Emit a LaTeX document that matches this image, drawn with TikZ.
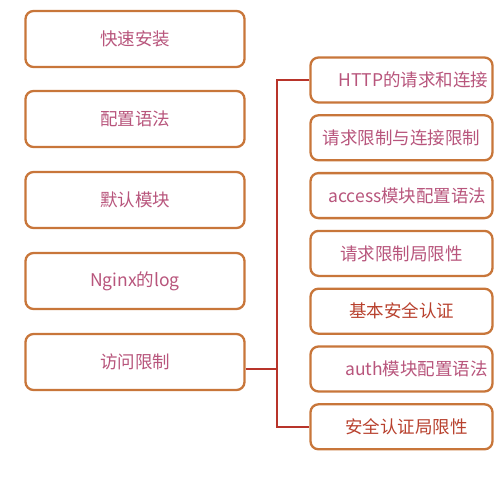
\documentclass[tikz,border=0pt]{standalone}
\usepackage{fontspec}
\newfontfamily\cjk{Noto Sans CJK SC}
\usepackage{tikz}
\usetikzlibrary{positioning}

\definecolor{boxline}{HTML}{C8763A}
\definecolor{pinktext}{HTML}{B8557C}
\definecolor{redtext}{HTML}{B8412E}
\definecolor{linkred}{HTML}{B8342A}

\begin{document}
\begin{tikzpicture}[
            x=1pt, y=-1pt,
            topic/.style={
                draw=boxline, line width=2.3pt, rounded corners=8pt,
                fill=white, text=pinktext, font=\cjk\fontsize{17.5}{20}\selectfont,
                minimum width=219pt, minimum height=56pt
            },
            sub/.style={
                topic, minimum width=182pt, minimum height=45pt
            },
            hot/.style={text=redtext},
            link/.style={draw=linkred, line width=2pt}
        ]

            \useasboundingbox (0,0) rectangle (500,496);

            % Left column
            \node[topic] (l1) at (135,39) {快速安装};
            \node[topic] (l2) at (135,119) {配置语法};
            \node[topic] (l3) at (135,200) {默认模块};
            \node[topic] (l4) at (135,281) {Nginx的log};
            \node[topic] (l5) at (135,362) {访问限制};

            % Right column (sub topics of the last box)
            \node[sub] (r1) at (401.5,80) {\hspace{24pt}HTTP的请求和连接};
            \node[sub] (r2) at (401.5,137.8) {请求限制与连接限制};
            \node[sub] (r3) at (401.5,195.6) {\hspace{12pt}access模块配置语法};
            \node[sub] (r4) at (401.5,253.4) {请求限制局限性};
            \node[sub, hot] (r5) at (401.5,311.2) {基本安全认证};
            \node[sub] (r6) at (401.5,369) {\hspace{30pt}auth模块配置语法};
            \node[sub, hot] (r7) at (401.5,426.8) {\hspace{10pt}安全认证局限性};

            % Bracket
            \coordinate (spine) at (277,369);
            \draw[link] (r1.west) -| (spine) |- (r7.west);
            \draw[link] (l5.east |- spine) -- (spine);

        \end{tikzpicture}
\end{document}
